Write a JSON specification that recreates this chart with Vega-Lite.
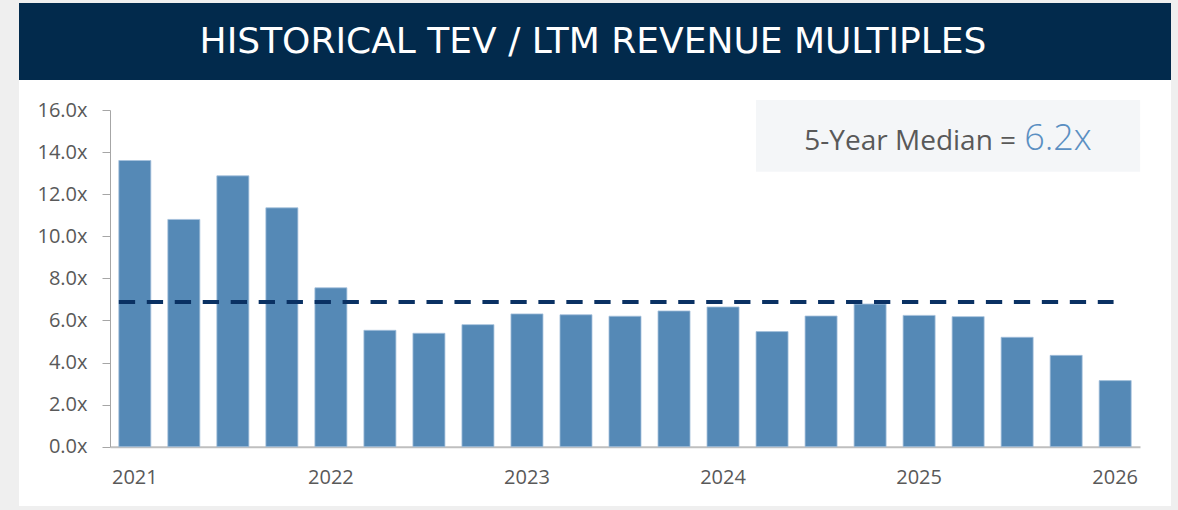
{
  "$schema": "https://vega.github.io/schema/vega-lite/v6.json",
  "background": "#efefef",
  "padding": {"left": 19, "top": 3, "right": 7, "bottom": 4},
  "spacing": 0,
  "config": {"view": {"stroke": null}, "concat": {"spacing": 0}, "font": "Open Sans"},
  "vconcat": [
    {
      "width": 1152,
      "height": 77,
      "view": {"fill": "#022a4c", "stroke": null},
      "data": {"values": [{"t": "HISTORICAL TEV / LTM REVENUE MULTIPLES"}]},
      "mark": {"type": "text", "font": "DejaVu Sans", "fontSize": 36, "color": "#ffffff", "baseline": "middle", "align": "center", "dx": -2},
      "encoding": {"text": {"field": "t"}}
    },
    {
      "width": 1152,
      "height": 426,
      "view": {"fill": "#ffffff", "stroke": null},
      "layer": [
        {
          "data": {"values": [
            {"q": "2021 Q1", "v": 13.6},
            {"q": "2021 Q2", "v": 10.8},
            {"q": "2021 Q3", "v": 12.87},
            {"q": "2021 Q4", "v": 11.35},
            {"q": "2022 Q1", "v": 7.55},
            {"q": "2022 Q2", "v": 5.53},
            {"q": "2022 Q3", "v": 5.39},
            {"q": "2022 Q4", "v": 5.8},
            {"q": "2023 Q1", "v": 6.31},
            {"q": "2023 Q2", "v": 6.27},
            {"q": "2023 Q3", "v": 6.2},
            {"q": "2023 Q4", "v": 6.45},
            {"q": "2024 Q1", "v": 6.64},
            {"q": "2024 Q2", "v": 5.47},
            {"q": "2024 Q3", "v": 6.21},
            {"q": "2024 Q4", "v": 6.78},
            {"q": "2025 Q1", "v": 6.24},
            {"q": "2025 Q2", "v": 6.18},
            {"q": "2025 Q3", "v": 5.2},
            {"q": "2025 Q4", "v": 4.34},
            {"q": "2026 Q1", "v": 3.14}
          ]},
          "mark": {"type": "bar", "color": "#5589b6", "stroke": "#a4c0dc", "strokeWidth": 0.8},
          "encoding": {
            "x": {
              "field": "q", "type": "nominal", "title": null,
              "scale": {"range": [91, 1121], "paddingInner": 0.347, "paddingOuter": 0.18},
              "axis": {
                "orient": "bottom", "offset": -59.3, "ticks": false, "labelAngle": 0,
                "labelExpr": "indexof(datum.value, 'Q1') >= 0 ? slice(datum.value, 0, 4) : ''",
                "labelFont": "Open Sans", "labelFontSize": 20, "labelColor": "#595959",
                "labelPadding": 21, "domainColor": "#bfbfbf", "domainWidth": 2, "labelOverlap": false
              }
            },
            "y": {
              "field": "v", "type": "quantitative", "title": null,
              "scale": {"domain": [0, 16], "range": [366.7, 30], "nice": false, "zero": true},
              "axis": {
                "orient": "left", "offset": -91, "values": [0, 2, 4, 6, 8, 10, 12, 14, 16],
                "labelExpr": "format(datum.value, '.1f') + 'x'", "grid": false,
                "labelFont": "Open Sans", "labelFontSize": 20, "labelColor": "#595959",
                "labelPadding": 15, "tickSize": 8, "tickColor": "#a6a6a6", "domainColor": "#a6a6a6",
                "domainWidth": 1, "tickWidth": 1
              }
            }
          }
        },
        {
          "data": {"values": [{"start": "2021 Q1", "end": "2026 Q1", "m": 6.88}]},
          "mark": {"type": "rule", "color": "#0a3163", "strokeWidth": 4, "strokeDash": [16.3, 11.67]},
          "encoding": {
            "x": {"field": "start", "type": "nominal", "bandPosition": 0, "title": null},
            "x2": {"field": "end", "bandPosition": 0.45},
            "y": {"field": "m", "type": "quantitative", "title": null}
          }
        },
        {
          "data": {"values": [{"start": "2024 Q2", "end": "2026 Q1", "top": 16.48, "bottom": 13.06}]},
          "mark": {"type": "rect", "color": "#f4f6f8"},
          "encoding": {
            "x": {"field": "start", "type": "nominal", "bandPosition": 0, "title": null},
            "x2": {"field": "end", "bandPosition": 1.28},
            "y": {"field": "top", "type": "quantitative", "title": null},
            "y2": {"field": "bottom"}
          }
        },
        {
          "data": {"values": [{"at": "2025 Q3", "yy": 14.1, "label": "5-Year Median ="}]},
          "mark": {"type": "text", "font": "Open Sans", "fontSize": 28, "color": "#595959", "align": "right", "baseline": "alphabetic", "dx": -1},
          "encoding": {
            "x": {"field": "at", "type": "nominal", "bandPosition": 0.5, "title": null},
            "y": {"field": "yy", "type": "quantitative", "title": null},
            "text": {"field": "label"}
          }
        },
        {
          "data": {"values": [{"at": "2025 Q3", "yy": 14.1, "label": "6.2x"}]},
          "mark": {"type": "text", "font": "Open Sans", "fontSize": 36, "fontWeight": 300, "color": "#5a8fc2", "align": "left", "baseline": "alphabetic", "dx": 7},
          "encoding": {
            "x": {"field": "at", "type": "nominal", "bandPosition": 0.5, "title": null},
            "y": {"field": "yy", "type": "quantitative", "title": null},
            "text": {"field": "label"}
          }
        }
      ]
    }
  ]
}
